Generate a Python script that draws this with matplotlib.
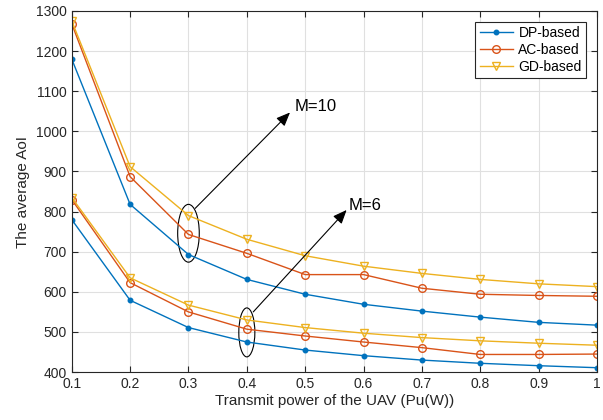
import numpy as np
import matplotlib.pyplot as plt
from matplotlib.patches import Ellipse

plt.rcParams['font.family'] = ['Liberation Sans', 'DejaVu Sans']

power = [0.1, 0.2, 0.3, 0.4, 0.5, 0.6, 0.7, 0.8, 0.9, 1.0]

# M = 10
dp_m10 = [1180, 818, 693, 631, 594, 569, 552, 537, 524, 517]
ac_m10 = [1268, 887, 743, 696, 643, 643, 609, 594, 591, 589]
gd_m10 = [1275, 912, 790, 731, 690, 664, 646, 631, 620, 613]

# M = 6
dp_m6 = [780, 579, 511, 475, 455, 441, 430, 422, 416, 411]
ac_m6 = [830, 623, 550, 507, 490, 475, 461, 444, 444, 445]
gd_m6 = [835, 635, 567, 530, 511, 497, 486, 478, 472, 467]

blue = '#0072BD'
red = '#D95319'
yellow = '#EDB120'

fig = plt.figure(figsize=(6.03, 4.2), dpi=100)
ax = fig.add_axes([0.119, 0.114, 0.871, 0.86])

ax.plot(power, dp_m10, color=blue, marker='.', markersize=6.5, linewidth=1, label='DP-based')
ax.plot(power, ac_m10, color=red, marker='o', markersize=5.5, markerfacecolor='none', linewidth=1, label='AC-based')
ax.plot(power, gd_m10, color=yellow, marker='v', markersize=5.5, markerfacecolor='none', linewidth=1, label='GD-based')
ax.plot(power, dp_m6, color=blue, marker='.', markersize=6.5, linewidth=1)
ax.plot(power, ac_m6, color=red, marker='o', markersize=5.5, markerfacecolor='none', linewidth=1)
ax.plot(power, gd_m6, color=yellow, marker='v', markersize=5.5, markerfacecolor='none', linewidth=1)

# annotations
ax.add_patch(Ellipse((0.3, 746), 0.037, 144, fill=False, edgecolor='black', linewidth=0.8))
ax.add_patch(Ellipse((0.4, 499), 0.0275, 122, fill=False, edgecolor='black', linewidth=0.8))
arrow = dict(arrowstyle='-|>,head_length=0.6,head_width=0.25', color='black',
             linewidth=0.8, mutation_scale=14, shrinkA=0, shrinkB=0)
ax.annotate('', xy=(0.474, 1047), xytext=(0.3115, 808), arrowprops=arrow)
ax.annotate('', xy=(0.571, 804), xytext=(0.411, 550), arrowprops=arrow)
ax.text(0.4825, 1063, 'M=10', fontsize=12, va='center', ha='left')
ax.text(0.575, 816, 'M=6', fontsize=12, va='center', ha='left')

ax.set_xlim(0.1, 1.0)
ax.set_ylim(400, 1300)
ax.set_xticks(power)
ax.set_xticklabels(['%g' % p for p in power])
ax.set_yticks(np.arange(400, 1301, 100))
ax.tick_params(direction='in', top=True, right=True, labelsize=10, colors='#262626', length=4)
ax.grid(True, color='#e0e0e0', linewidth=0.8)
ax.set_axisbelow(True)
for s in ax.spines.values():
    s.set_color('#262626')
    s.set_linewidth(0.8)

ax.set_xlabel('Transmit power of the UAV (Pu(W))', fontsize=11, color='#262626', labelpad=2)
ax.set_ylabel('The average AoI', fontsize=11, color='#262626', labelpad=4)

leg = ax.legend(loc='upper right', fontsize=10, fancybox=False, framealpha=1,
                edgecolor='#262626', handlelength=2.4, borderpad=0.3, labelspacing=0.2,
                handletextpad=0.4, borderaxespad=0.8)
leg.get_frame().set_linewidth(0.8)

fig.savefig('out.png', dpi=100)
